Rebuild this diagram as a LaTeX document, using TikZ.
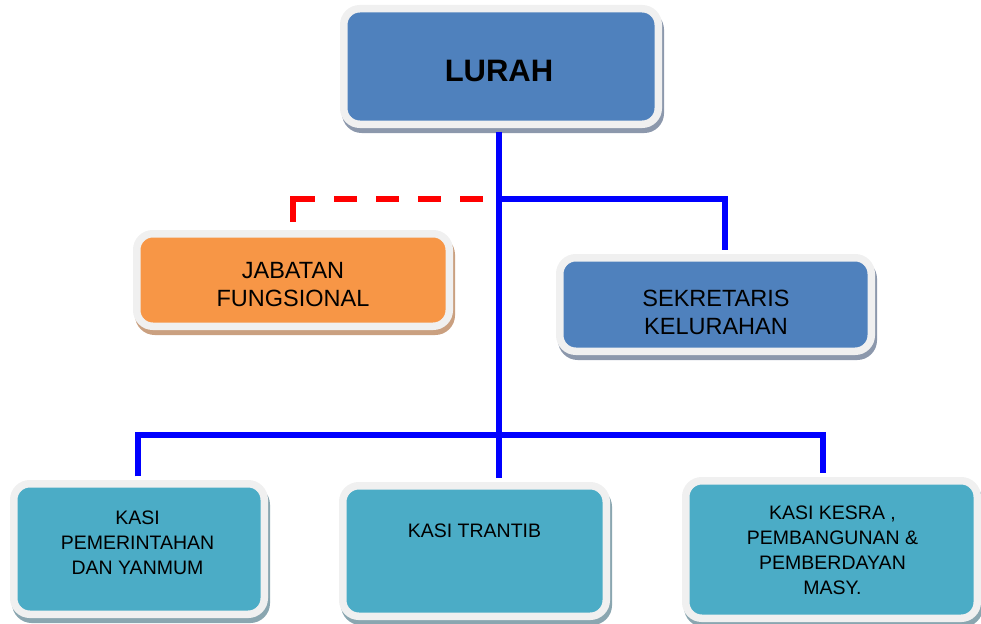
\documentclass[tikz,border=0pt]{standalone}
\usepackage{fontspec}
\setmainfont{Liberation Sans}
\usepackage{tikz}
\usetikzlibrary{positioning,shadows}
\definecolor{lurahblue}{RGB}{79,129,189}
\definecolor{fungorange}{RGB}{247,150,70}
\definecolor{kasiteal}{RGB}{75,172,198}
\definecolor{rimgray}{RGB}{240,240,240}
\definecolor{blueshade}{RGB}{140,152,172}
\definecolor{orangeshade}{RGB}{202,160,128}
\definecolor{tealshade}{RGB}{138,166,176}
\definecolor{linkblue}{RGB}{0,0,255}
\definecolor{linkred}{RGB}{255,0,0}

\begin{document}
\begin{tikzpicture}[x=1pt,y=-1pt,
    unit/.style={draw=rimgray,line width=7.5pt,rounded corners=16pt,inner sep=0pt,
      drop shadow={shadow xshift=2pt,shadow yshift=-5pt,fill=#1,draw=#1,line width=7.5pt,opacity=1}},
    midtext/.style={inner sep=0pt,align=center,font=\fontsize{23.5}{28}\selectfont},
    kasitext/.style={inner sep=0pt,align=center,font=\fontsize{19.5}{25}\selectfont},
    orgline/.style={linkblue,line width=6pt},
    fungline/.style={linkred,line width=5.5pt,
      dash pattern=on 23pt off 19pt on 23pt off 19pt on 23pt off 19pt on 23pt off 19pt on 80pt off 0pt}]

    \useasboundingbox (0,0) rectangle (981,623);

    \node[unit=blueshade,fill=lurahblue,minimum width=314.5,minimum height=115.5] (lurah) at (501,66.5) {};
    \node[unit=orangeshade,fill=fungorange,minimum width=312.5,minimum height=92.5] (jab) at (293,280) {};
    \node[unit=blueshade,fill=lurahblue,minimum width=311.5,minimum height=93.5] (sek) at (715.5,304.5) {};
    \node[unit=tealshade,fill=kasiteal,minimum width=250.5,minimum height=130.5] (pem) at (139,549) {};
    \node[unit=tealshade,fill=kasiteal,minimum width=263.5,minimum height=130.5] (tran) at (474.5,551) {};
    \node[unit=tealshade,fill=kasiteal,minimum width=291.5,minimum height=137.5] (kesra) at (831.5,549.5) {};

    \node[inner sep=0pt,font=\fontsize{31}{36}\selectfont\bfseries] (lurah-t) at ([xshift=-2pt,yshift=-4.3pt]lurah.center) {LURAH};
    \node[midtext] (jab-t) at ([yshift=-5pt]jab.center) {JABATAN\\FUNGSIONAL};
    \node[midtext] (sek-t) at ([xshift=0.5pt,yshift=-8pt]sek.center) {SEKRETARIS\\KELURAHAN};
    \node[kasitext] (pem-t) at ([xshift=-1.5pt,yshift=6.3pt]pem.center) {KASI\\PEMERINTAHAN\\DAN YANMUM};
    \node[kasitext] (tran-t) at ([yshift=20pt]tran.center) {KASI TRANTIB};
    \node[kasitext] (kesra-t) at ([xshift=1pt,yshift=-1pt]kesra.center) {KASI KESRA ,\\PEMBANGUNAN \&\\PEMBERDAYAN\\MASY.};

    \coordinate (split) at (499,199);
    \coordinate (hub) at (499,435);

    \draw[orgline,shorten <=3.75pt] (split |- lurah.south) -- (hub);
    \draw[orgline,shorten >=3.75pt] (split) -| ([xshift=9pt]sek.north);
    \draw[orgline,shorten <=3.75pt,shorten >=3.75pt] ([xshift=-1pt]pem.north) |- (hub) -| ([xshift=-8.5pt]kesra.north);
    \draw[orgline,shorten >=3.75pt] (hub) -- (hub |- tran.north);
    \draw[fungline,shorten >=8pt] ([xshift=-16.5pt]split) -| (jab.north);

\end{tikzpicture}
\end{document}
